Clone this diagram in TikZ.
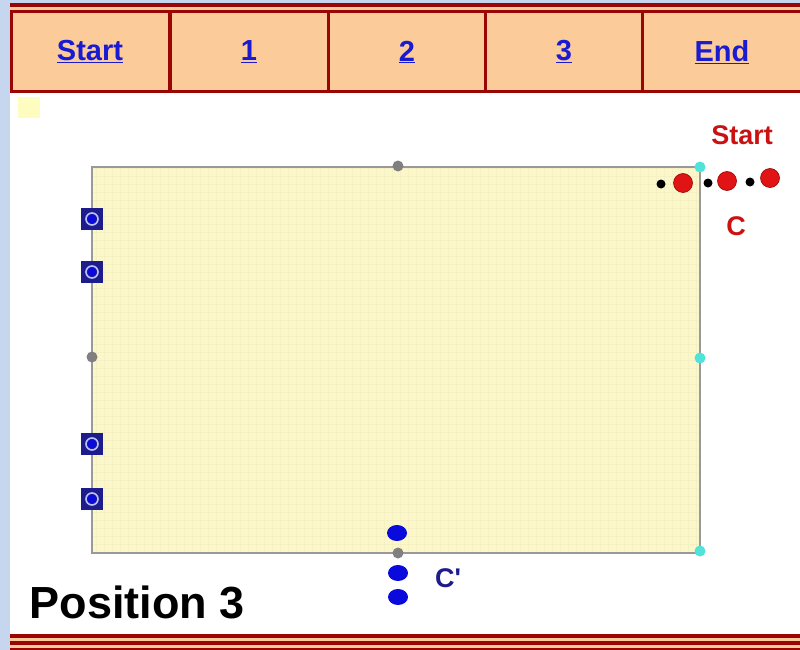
\documentclass[tikz,border=0pt]{standalone}
\usepackage{fontspec}
\setmainfont{Liberation Sans}
\newfontfamily\plainsans[Ligatures=TeXOff]{Liberation Sans}
\usetikzlibrary{positioning,shapes.geometric}
\definecolor{pageblue}{HTML}{C6D6EE}
\definecolor{barred}{HTML}{9A0606}
\definecolor{peach}{HTML}{FBCB9A}
\definecolor{linkblue}{HTML}{1A1AD0}
\definecolor{sheet}{HTML}{FBF7C8}
\definecolor{sheetgrid}{HTML}{F5F1C4}
\definecolor{navy}{HTML}{1C1C8C}
\definecolor{redpt}{HTML}{E01414}
\definecolor{bluept}{HTML}{0A0ADC}
\definecolor{cyanpt}{HTML}{4FE3DA}

\begin{document}
\begin{tikzpicture}[x=1pt, y=-1pt,
        cell/.style={rectangle, draw=barred, fill=peach, line width=3pt,
        minimum width=158pt, minimum height=80pt, inner sep=0pt},
        link/.style={font=\fontsize{29}{32}\selectfont\bfseries, text=linkblue},
        hinge/.style={circle, fill=black!50, minimum size=11pt, inner sep=0pt},
        corner/.style={circle, fill=cyanpt, minimum size=11pt, inner sep=0pt},
        pin/.style={rectangle, fill=navy, minimum size=22pt, inner sep=0pt,
        path picture={\draw[white!75!blue, line width=1.6pt]
        (path picture bounding box.center) circle (6pt);
        \fill[bluept] (path picture bounding box.center) circle (4.5pt);}},
        redball/.style={circle, draw=red!60!black, fill=redpt, line width=0.6pt,
        minimum size=19pt, inner sep=0pt},
        blackball/.style={circle, fill=black, minimum size=9pt, inner sep=0pt},
        blueball/.style={ellipse, fill=bluept, minimum width=20pt,
        minimum height=16pt, inner sep=0pt},
        tag/.style={font=\fontsize{27}{29}\selectfont\bfseries},
      ]
      \useasboundingbox (0,0) rectangle (800,650);
      \fill[white] (0,0) rectangle (800,650);

      % =================== FRAME ===================
      \fill[pageblue] (0,0) rectangle (10,650);
      \fill[pageblue] (0,0) rectangle (800,3);
      \fill[barred] (10,3.5) rectangle (800,7.5);
      \fill[peach] (10,7.5) rectangle (800,10);

      \node[cell] (c0) at (90,52) {};
      \node[cell] (c1) at (249,52) {};
      \node[cell] (c2) at (407,52) {};
      \node[cell] (c3) at (564,52) {};
      \node[cell, minimum width=160pt] (c4) at (722,52) {};
      \node[link] at (c0) {\underline{Start}};
      \node[link] at (c1) {\underline{1}};
      \node[link] at (c2) {\underline{2}};
      \node[link] at (c3) {\underline{3}};
      \node[link] at (c4) {\underline{End}};

      \fill[yellow!25] (18,97) rectangle (40,118);

      % bottom stripes
      \fill[barred] (10,634) rectangle (800,638);
      \fill[peach] (10,638) rectangle (800,641);
      \fill[barred] (10,641) rectangle (800,645);
      \fill[peach] (10,645) rectangle (800,647.5);
      \fill[barred] (10,647.5) rectangle (800,650);

      % =================== SHEET ===================
      \fill[sheet] (92,167) rectangle (700,553);
      \draw[sheetgrid, line width=0.4pt, step=8pt] (92,167) grid (700,553);
      \draw[black!40, line width=1.6pt] (92,167) rectangle (700,553);

      \node[hinge] (htop) at (398,166) {};
      \node[hinge] (hleft) at (92,357) {};
      \node[hinge] (hbot) at (398,553) {};
      \node[corner] (ktr) at (700,167) {};
      \node[corner] (kright) at (700,358) {};
      \node[corner] (kbr) at (700,551) {};

      \node[pin] (p1) at (92,219) {};
      \node[pin] (p2) at (92,272) {};
      \node[pin] (p3) at (92,444) {};
      \node[pin] (p4) at (92,499) {};

      % =================== POINT C ===================
      \node[blackball] (b1) at (661,184) {};
      \node[redball] (r1) at (683,183) {};
      \node[blackball] (b2) at (708,183) {};
      \node[redball] (r2) at (727,181) {};
      \node[blackball] (b3) at (750,182) {};
      \node[redball] (r3) at (770,178) {};
      \node[tag, text=redpt!90!black] (start) at (742,135) {Start};
      \node[tag, text=redpt!90!black] (clab) at (736,226) {C};

      % =================== POINT C' ===================
      \node[blueball] (u1) at (397,533) {};
      \node[blueball] (u2) at (398,573) {};
      \node[blueball] (u3) at (398,597) {};
      \node[tag, text=navy] (cplab) at (448,578) {\plainsans C'};

      \node[font=\fontsize{45}{48}\selectfont\bfseries, anchor=west]
      (pos) at (26,602) {Position 3};

    \end{tikzpicture}
\end{document}
